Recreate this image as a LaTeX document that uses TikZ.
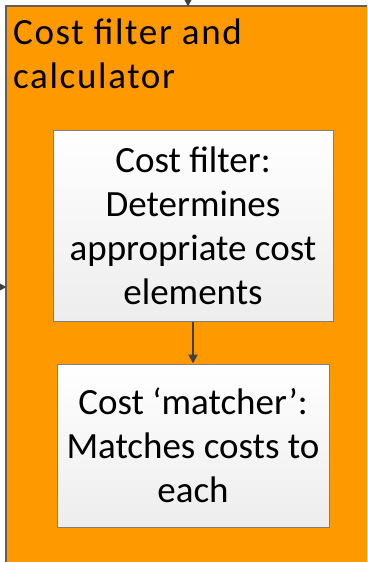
\documentclass[tikz,border=0pt]{standalone}
\usepackage{fontspec}
\setmainfont{Carlito}
\usetikzlibrary{arrows.meta,shadows}
\definecolor{procorange}{HTML}{FF9900}
\definecolor{framegray}{HTML}{5F5F5F}
\definecolor{linkgray}{HTML}{404040}
\definecolor{boxtop}{HTML}{FFFFFF}
\definecolor{boxbottom}{HTML}{EDEDED}
\tikzset{
  x=1pt, y=-1pt,
  bigtext/.style={font=\fontsize{37}{44}\selectfont},
  titletext/.style={font=\fontsize{37}{44}\selectfont\addfontfeatures{LetterSpace=4.5}},
  outerbox/.style={draw=framegray, line width=1.2pt, fill=procorange},
  stepbox/.style={draw=framegray!80, line width=1pt, top color=boxtop, bottom color=boxbottom,
    bigtext, align=center, inner sep=0pt,
    drop shadow={shadow xshift=1.2pt, shadow yshift=-1.2pt, opacity=0.45, fill=black!60}},
  link/.style={draw=linkgray, line width=2pt, -{Triangle[length=9pt,width=9pt]}},
}
\begin{document}
\begin{tikzpicture}
  \useasboundingbox (0,0) rectangle (367,562);
  \clip (0,0) rectangle (367,562);
  % outer process block, running past the right and bottom edges
  \draw[outerbox] (6,6) rectangle (372,570);
  \node[titletext, anchor=base west, align=left, inner sep=0pt] (title) at (13,88)
    {Cost filter and\\calculator};
  % inner steps
  \node[stepbox, minimum width=280pt, minimum height=191pt] (filter) at (193,225.5)
    {Cost filter:\\Determines\\appropriate cost\\elements};
  \node[stepbox, minimum width=272pt, minimum height=163pt] (matcher) at (193,445.5)
    {Cost ‘matcher’:\\Matches costs to\\each};
  \draw[link] (filter.south) -- (matcher.north);
  % incoming links from outside
  \coordinate (topin) at (188,-4);
  \coordinate (topend) at (188,6.5);
  \coordinate (leftin) at (-4,287);
  \coordinate (leftend) at (6.5,287);
  \draw[link] (topin) -- (topend);
  \draw[link] (leftin) -- (leftend);
\end{tikzpicture}
\end{document}
